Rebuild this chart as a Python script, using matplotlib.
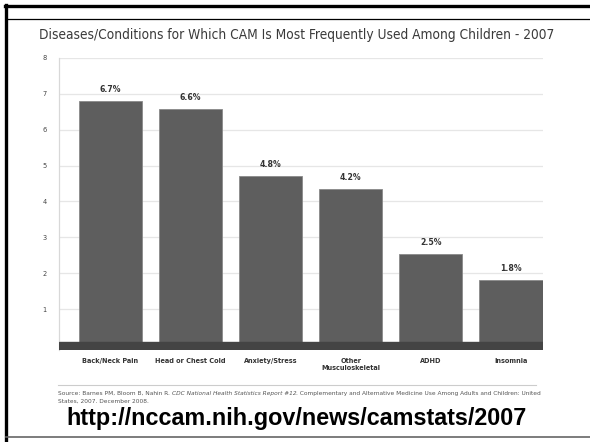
import matplotlib
matplotlib.use('Agg')
import matplotlib.pyplot as plt
from matplotlib.lines import Line2D

categories = ['Back/Neck Pain', 'Head or Chest Cold', 'Anxiety/Stress',
              'Other\nMusculoskeletal', 'ADHD', 'Insomnia']
heights = [6.8, 6.57, 4.71, 4.35, 2.54, 1.8]
labels = ['6.7%', '6.6%', '4.8%', '4.2%', '2.5%', '1.8%']
yticks = [1, 2, 3, 4, 5, 6, 7, 8]

W, H = 590, 442
fig = plt.figure(figsize=(5.9, 4.42), dpi=100)
fig.patch.set_facecolor('white')

def fx(px):
    return px / W

def fy(py):
    return 1 - py / H

narrow = ['DejaVu Sans']
fig.canvas.draw()
r = fig.canvas.get_renderer()

def fit(t, width_px):
    # resize text to the width seen in the reference
    bb = t.get_window_extent(renderer=r)
    t.set_fontsize(t.get_fontsize() * width_px / bb.width)

# frame around slide
fig.add_artist(Line2D([fx(6), fx(6)], [fy(5), fy(442)], color='black', lw=2.4))
fig.add_artist(Line2D([fx(5), fx(590)], [fy(6), fy(6)], color='black', lw=2.4))
fig.add_artist(Line2D([fx(6), fx(590)], [fy(19), fy(19)], color='black', lw=0.9))
fig.add_artist(Line2D([fx(6), fx(590)], [fy(437), fy(437)], color='#666666', lw=1.2))

title = fig.text(fx(297), fy(35), 'Diseases/Conditions for Which CAM Is Most Frequently Used Among Children - 2007',
                 ha='center', va='center', fontsize=11.5, color='#3a3a3a', family=narrow,
                 fontstretch='condensed')
fit(title, 513)

ax = fig.add_axes([fx(59), fy(350), fx(543) - fx(59), fy(58) - fy(350)])
x = list(range(len(categories)))
ax.bar(x, heights, width=0.79, color='#5e5e5e', edgecolor='#8a8a8a', linewidth=0.6, zorder=2)
ax.axhspan(-0.14, 0.08, color='#444444', zorder=3)
ax.set_xlim(-0.64, 5.4)
ax.set_ylim(-0.14, 8)
ax.set_yticks(yticks)
ax.set_yticklabels([str(t) for t in yticks], fontsize=4.8, color='#444444', family=narrow)
ax.yaxis.grid(True, color='#e6e6e6', lw=0.9, zorder=0)
ax.tick_params(axis='y', length=0, pad=9)
ax.set_xticks(x)
ax.set_xticklabels(categories, fontsize=5.2, fontweight='bold', color='#333333',
                   family=narrow, fontstretch='condensed', linespacing=1.2, va='top')
ax.tick_params(axis='x', length=0, pad=6)
for s in ['top', 'right', 'bottom']:
    ax.spines[s].set_visible(False)
ax.spines['left'].set_color('#d8d8d8')
ax.spines['left'].set_linewidth(0.9)

for xi, h, lab in zip(x, heights, labels):
    ax.text(xi, h + 0.2, lab, ha='center', va='bottom', fontsize=6.2, fontweight='bold',
            color='#333333', family=narrow, fontstretch='condensed')

# source note
fig.add_artist(Line2D([fx(58), fx(536)], [fy(385), fy(385)], color='#cccccc', lw=0.8))
parts = [('Source: Barnes PM, Bloom B, Nahin R. ', 'normal'),
         ('CDC National Health Statistics Report #12', 'italic'),
         ('. Complementary and Alternative Medicine Use Among Adults and Children: United', 'normal')]
px = fx(58)
for txt, st in parts:
    t = fig.text(px, fy(393), txt, ha='left', va='center', fontsize=4.23, color='#555555',
                 family=narrow, style=st)
    bb = t.get_window_extent(renderer=r)
    px += bb.width / W
fig.text(fx(58), fy(401), 'States, 2007. December 2008.', ha='left', va='center', fontsize=4.23,
         color='#555555', family=narrow)

fig.text(fx(297), fy(418), 'http://nccam.nih.gov/news/camstats/2007', ha='center', va='center',
         fontsize=16.8, fontweight='bold', color='black', family='Liberation Sans')

fig.savefig('out.png', dpi=100)
